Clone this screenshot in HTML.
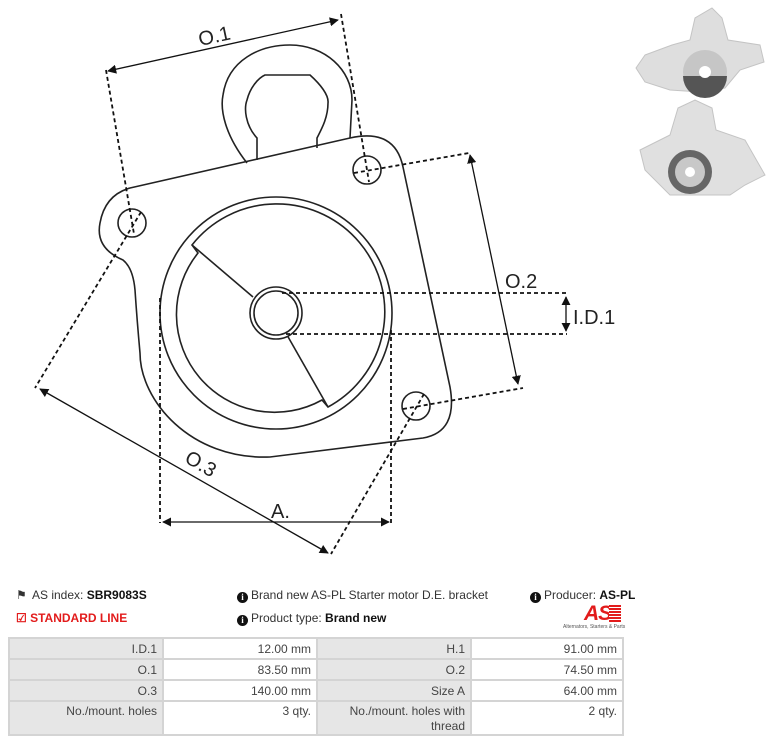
<!DOCTYPE html>
<html><head><meta charset="utf-8"><style>
body{margin:0;width:769px;height:749px;background:#fff;overflow:hidden;font-family:"Liberation Sans Narrow","Liberation Sans",sans-serif;position:relative}
.t{position:absolute;font-size:12px;color:#333;white-space:nowrap}
.i{display:inline-block;width:11px;height:11px;border-radius:50%;background:#111;color:#fff;font:bold 9px/11px 'Liberation Serif',serif;text-align:center;vertical-align:-1px;margin-right:3px}
table{position:absolute;left:8px;top:637px;width:616px;border-collapse:collapse;font-size:12px;color:#444}
td{border:2px solid #d4d4d4;text-align:right;padding:0 5px;height:19px;vertical-align:middle}
td.g{background:#e6e6e6}
tr.last td{height:30px;vertical-align:top;padding-top:2px;line-height:15px}
</style></head><body>
<svg width="769" height="580" style="position:absolute;left:0;top:0" xmlns="http://www.w3.org/2000/svg">
<defs><marker id="a" viewBox="0 0 10 10" refX="9" refY="5" markerWidth="7" markerHeight="7" orient="auto-start-reverse"><path d="M0,0L10,5L0,10z" fill="#111"/></marker></defs>
<g fill="none" stroke="#222" stroke-width="1.6">
<path d="M247,163 C225,135 220,110 223,95 C228,60 260,45 290,45 C325,45 352,70 352,100 L350,138"/>
<path d="M257,160 L257,138 C245,125 244,108 247,100 C250,88 258,78 265,75 L310,75 C320,84 329,95 328,103 C328,118 321,130 317,138 L317,148"/>
<path d="M130,188 L350,138 Q395,128 403,167 L450,387 Q458,432 423,438 L270,457 C190,460 140,400 140,353 Q137,320 135,290 Q133,268 123,260 Q95,248 100,223 Q105,195 130,188 Z"/>
<circle cx="276" cy="313" r="116"/>
<path d="M192,245 A108,108 0 1 1 328,407 L322,400 A98,98 0 0 1 198,253 Z"/>
<line x1="192" y1="245" x2="253" y2="297"/>
<line x1="287" y1="335" x2="328" y2="407"/>
<circle cx="276" cy="313" r="26" fill="#fff"/>
<circle cx="276" cy="313" r="22"/>
<circle cx="367" cy="170" r="14"/>
<circle cx="132" cy="223" r="14"/>
<circle cx="416" cy="406" r="14"/>
</g>
<g fill="none" stroke="#111" stroke-width="1.8" stroke-dasharray="4,3">
<line x1="106" y1="70" x2="134" y2="234"/>
<line x1="341" y1="14" x2="369" y2="182"/>
<line x1="354" y1="173" x2="469" y2="153"/>
<line x1="403" y1="409" x2="523" y2="388"/>
<line x1="141" y1="212" x2="35" y2="388"/>
<line x1="424" y1="394" x2="331" y2="554"/>
<line x1="282" y1="293" x2="567" y2="293"/>
<line x1="286" y1="334" x2="567" y2="334"/>
<line x1="160" y1="298" x2="160" y2="523"/>
<line x1="391" y1="330" x2="391" y2="523"/>
</g>
<g stroke="#111" stroke-width="1.3" marker-start="url(#a)" marker-end="url(#a)">
<line x1="108" y1="71" x2="338" y2="20"/>
<line x1="470" y1="155" x2="518" y2="384"/>
<line x1="40" y1="389" x2="328" y2="553"/>
<line x1="163" y1="522" x2="389" y2="522"/>
<line x1="566" y1="297" x2="566" y2="331"/>
</g>
<g font-family="Liberation Sans,sans-serif" font-size="20" fill="#222">
<text x="198" y="43" transform="rotate(-12 213 35)">O.1</text>
<text x="505" y="288">O.2</text>
<text x="573" y="324">I.D.1</text>
<text x="185" y="470" transform="rotate(30 200 463)">O.3</text>
<text x="271" y="518">A.</text>
</g>
<g>
<path d="M645,55 L672,45 L690,40 L695,18 L712,8 L722,18 L728,40 L760,45 L764,62 L740,70 L725,88 L700,92 L670,90 L645,82 L636,68 Z" fill="#dedede" stroke="#c4c4c4"/>
<circle cx="705" cy="72" r="22" fill="#c6c6c6"/><path d="M683,76 A22,22 0 0 0 727,76 Z" fill="#555"/><circle cx="705" cy="72" r="6" fill="#fff"/>
<path d="M640,150 L670,135 L678,108 L695,100 L712,108 L716,130 L745,140 L765,175 L745,185 L730,195 L670,195 L645,170 Z" fill="#e0e0e0" stroke="#c4c4c4"/>
<circle cx="690" cy="172" r="22" fill="#666"/><circle cx="690" cy="172" r="15" fill="#c8c8c8"/><circle cx="690" cy="172" r="5" fill="#fff"/>
</g>
</svg>
<div class="t" style="left:16px;top:588px">&#9873;</div>
<div class="t" style="left:32px;top:588px">AS index: <b style="color:#111">SBR9083S</b></div>
<div class="t" style="left:237px;top:588px"><span class="i">i</span>Brand new AS-PL Starter motor D.E. bracket</div>
<div class="t" style="left:530px;top:588px"><span class="i">i</span>Producer: <b style="color:#111">AS-PL</b></div>
<div class="t" style="left:16px;top:611px;color:#e21b1b;font-weight:bold">&#9745; STANDARD LINE</div>
<div class="t" style="left:237px;top:611px"><span class="i">i</span>Product type: <b style="color:#111">Brand new</b></div>
<div style="position:absolute;left:584px;top:602px;font:italic bold 21px 'Liberation Sans',sans-serif;color:#e21b1b;letter-spacing:-1px">AS</div>
<div style="position:absolute;left:609px;top:605px;width:12px;height:17px;background:repeating-linear-gradient(#e21b1b 0 2px,#fff 2px 3px)"></div>
<div style="position:absolute;left:563px;top:624px;font:5px 'Liberation Sans',sans-serif;color:#555">Alternators, Starters &amp; Parts</div>
<table>
<tr><td class="g" style="width:142px">I.D.1</td><td style="width:142px">12.00 mm</td><td class="g" style="width:142px">H.1</td><td>91.00 mm</td></tr>
<tr><td class="g">O.1</td><td>83.50 mm</td><td class="g">O.2</td><td>74.50 mm</td></tr>
<tr><td class="g">O.3</td><td>140.00 mm</td><td class="g">Size A</td><td>64.00 mm</td></tr>
<tr class="last"><td class="g">No./mount. holes</td><td>3 qty.</td><td class="g">No./mount. holes with<br>thread</td><td>2 qty.</td></tr>
</table>
</body></html>
